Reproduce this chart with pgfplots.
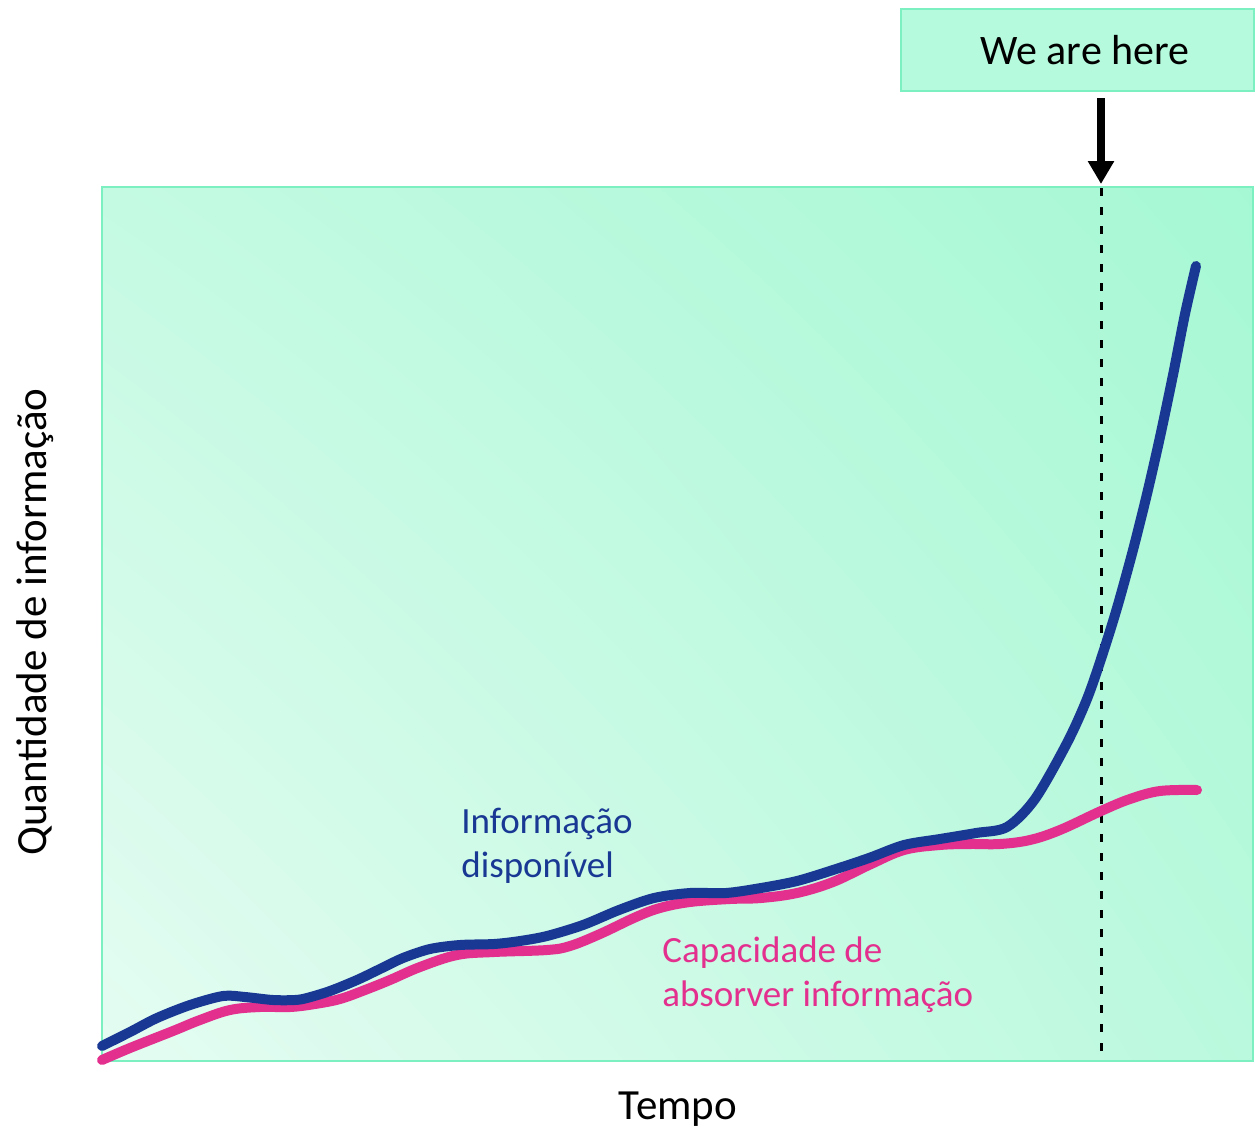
\documentclass[border=0pt]{standalone}
\usepackage{fontspec}
\setmainfont{Carlito}
\usepackage{pgfplots}
\pgfplotsset{compat=1.18}
\usetikzlibrary{shadings,arrows.meta}
\definecolor{infoblue}{RGB}{24,56,148}
\definecolor{cappink}{RGB}{227,48,142}
\definecolor{mintline}{RGB}{125,240,194}
\definecolor{mintbox}{RGB}{181,250,221}
\definecolor{bgll}{RGB}{229,252,242}
\definecolor{bgul}{RGB}{196,250,226}
\definecolor{bglr}{RGB}{186,249,221}
\definecolor{bgur}{RGB}{166,248,212}

\begin{document}
\begin{tikzpicture}
\begin{axis}[
    x=0.5pt, y=0.5pt,
    y dir=reverse,
    xmin=102, xmax=1253,
    ymin=187, ymax=1061,
    xtick=\empty, ytick=\empty,
    axis line style={draw=mintline, line width=1pt},
    axis background/.style={shade,
        lower left=bgll, upper left=bgul,
        upper right=bgur, lower right=bglr},
    clip=false,
]
% page frame in pixel units of the reference
\path (axis cs:0,0) rectangle (axis cs:1255,1131);

% "we are here" marker
\draw[black, line width=1.5pt, dash pattern=on 4pt off 5.5pt]
    (axis cs:1101,188) -- (axis cs:1101,1061);
\draw[black, line width=4pt, -{Triangle[width=12.5pt,length=11.5pt]}]
    (axis cs:1101,98) -- (axis cs:1101,184);
\draw[draw=mintline, fill=mintbox, line width=1pt]
    (axis cs:901,9) rectangle (axis cs:1254,91);
\node[anchor=base, font=\fontsize{21}{25}\selectfont]
    at (axis cs:1085,64) {We are here};

\addplot[cappink, line width=5pt, line cap=round, smooth, tension=0.6] coordinates {
    (102,1060) (130,1048) (173,1031) (200,1020) (230,1010) (260,1007)
    (290,1007) (315,1004) (340,999) (365,990) (390,980) (420,967)
    (457,955) (494,952) (547,950) (570,946) (600,934) (636,917)
    (660,908) (690,902) (730,899) (761,898) (797,893) (833,882)
    (869,865) (904,850) (940,845) (970,844) (1000,844) (1030,840)
    (1060,830) (1101,811) (1130,799) (1160,791) (1197,790)
};
\addplot[infoblue, line width=5pt, line cap=round, smooth, tension=0.5] coordinates {
    (102,1046) (130,1032) (157,1018) (190,1005) (223,996) (245,997)
    (273,1000) (295,1000) (307,998) (330,991) (357,980) (380,969)
    (403,958) (430,949) (460,945) (494,944) (520,941) (547,936)
    (583,925) (619,910) (654,898) (690,893) (726,893) (761,888)
    (797,881) (833,870) (869,858) (904,845) (940,839) (976,833)
    (1007,827) (1035,799) (1067,743) (1087,699) (1102,656) (1117,608)
    (1133,550) (1147,494) (1160,437) (1173,375) (1185,314) (1196,266)
};

\node[anchor=base west, text=infoblue, font=\fontsize{18.5}{22}\selectfont, inner sep=0pt]
    at (axis cs:461,833) {Informação};
\node[anchor=base west, text=infoblue, font=\fontsize{18.5}{22}\selectfont, inner sep=0pt]
    at (axis cs:461,877) {disponível};
\node[anchor=base west, text=cappink, font=\fontsize{18.5}{22}\selectfont, inner sep=0pt]
    at (axis cs:662,962) {Capacidade de};
\node[anchor=base west, text=cappink, font=\fontsize{18.5}{22}\selectfont, inner sep=0pt]
    at (axis cs:662,1006) {absorver informação};

\node[anchor=base, font=\fontsize{21.5}{25}\selectfont, inner sep=0pt]
    at (axis cs:678,1119) {Tempo};
\node[anchor=base, rotate=90, font=\fontsize{21.5}{25}\selectfont, inner sep=0pt]
    at (axis cs:47,622) {Quantidade de informação};
\end{axis}
\end{tikzpicture}
\end{document}
